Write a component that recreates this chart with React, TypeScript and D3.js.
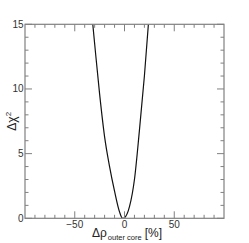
import * as d3 from 'd3';
import React, { useRef, useEffect } from 'react';

// Δρ outer core [%] vs Δχ²
const rhoValues = [-35, -30, -25, -20, -15, -10, -5, -2, 0, 5, 10, 15, 20, 25];
const chi2Values = [17.5, 13.5, 9.6, 6.3, 4.0, 2.1, 0.5, 0.0, 0.05, 0.9, 3.0, 6.8, 11.0, 16.0];
const xMajorTicks = [-50, 0, 50];
const xMinorTicks = [-90, -80, -70, -60, -40, -30, -20, -10, 10, 20, 30, 40, 60, 70, 80, 90];
const yMajorTicks = [0, 5, 10, 15];
const yMinorTicks = [1, 2, 3, 4, 6, 7, 8, 9, 11, 12, 13, 14];

function App() {
    const width = 249;
    const height = 243;
    const margin = { left: 25, right: 25, top: 24.3, bottom: 24.7 };
    const ref = useRef<SVGSVGElement>(null);

    useEffect(() => {
        const svg = d3.select(ref.current);
        svg.selectAll("*").remove();

        const x = d3.scaleLinear().domain([-100, 100]).range([margin.left, width - margin.right]);
        const y = d3.scaleLinear().domain([0, 15]).range([height - margin.bottom, margin.top]);
        const axisColor = "#808080";
        const font = "Liberation Sans, Arial, sans-serif";
        const x0 = margin.left, x1 = width - margin.right;
        const y0 = height - margin.bottom, y1 = margin.top;

        svg.append("clipPath").attr("id", "plotclip")
            .append("rect")
            .attr("x", x0).attr("y", y1)
            .attr("width", x1 - x0).attr("height", y0 - y1);

        const data = rhoValues.map((r, i) => ({ r, c: chi2Values[i] }));
        const line = d3.line<{ r: number, c: number }>()
            .x(d => x(d.r))
            .y(d => y(d.c))
            .curve(d3.curveMonotoneX);

        svg.append("path")
            .datum(data)
            .attr("d", line)
            .attr("fill", "none")
            .attr("stroke", "#111")
            .attr("stroke-width", 1.2)
            .attr("clip-path", "url(#plotclip)");

        const ticks = svg.append("g").attr("stroke", axisColor).attr("stroke-width", 1);
        const addX = (vals: number[], len: number) => {
            vals.forEach(v => {
                ticks.append("line").attr("x1", x(v)).attr("x2", x(v)).attr("y1", y0).attr("y2", y0 - len);
                ticks.append("line").attr("x1", x(v)).attr("x2", x(v)).attr("y1", y1).attr("y2", y1 + len);
            });
        };
        const addY = (vals: number[], len: number) => {
            vals.forEach(v => {
                ticks.append("line").attr("x1", x0).attr("x2", x0 + len).attr("y1", y(v)).attr("y2", y(v));
                ticks.append("line").attr("x1", x1).attr("x2", x1 - len).attr("y1", y(v)).attr("y2", y(v));
            });
        };
        addX(xMinorTicks, 3.5);
        addX(xMajorTicks, 7);
        addY(yMinorTicks, 3.5);
        addY(yMajorTicks, 7);

        svg.append("rect")
            .attr("x", x0).attr("y", y1)
            .attr("width", x1 - x0).attr("height", y0 - y1)
            .attr("fill", "none")
            .attr("stroke", axisColor)
            .attr("stroke-width", 1.2);

        svg.append("g").selectAll("text")
            .data(xMajorTicks)
            .enter()
            .append("text")
            .attr("x", d => x(d))
            .attr("y", y0 + 10)
            .attr("text-anchor", "middle")
            .attr("font-family", font)
            .attr("font-size", 10)
            .attr("fill", "#333")
            .text(d => d < 0 ? "\u2212" + Math.abs(d) : String(d));

        svg.append("g").selectAll("text")
            .data(yMajorTicks)
            .enter()
            .append("text")
            .attr("x", x0 - 1.5)
            .attr("y", d => y(d) + 3.5)
            .attr("text-anchor", "end")
            .attr("font-family", font)
            .attr("font-size", 10)
            .attr("fill", "#333")
            .text(d => String(d));

        const xt = svg.append("text")
            .attr("x", 92)
            .attr("y", 236.5)
            .attr("font-family", font)
            .attr("font-size", 12)
            .attr("fill", "#222");
        xt.append("tspan").text("\u0394\u03c1");
        xt.append("tspan").attr("font-size", 7.5).attr("dy", 3.5).attr("dx", 1).text("outer core");
        xt.append("tspan").attr("dy", -3.5).attr("dx", 3).text("[%]");

        const yt = svg.append("text")
            .attr("transform", `translate(16,${(y0 + y1) / 2}) rotate(-90)`)
            .attr("text-anchor", "middle")
            .attr("font-family", font)
            .attr("font-size", 12)
            .attr("fill", "#222");
        yt.append("tspan").text("\u0394\u03c7");
        yt.append("tspan").attr("font-size", 8).attr("dy", -5).text("2");
    }, []);

    return (
        <div style={{ position: 'absolute', left: 0, top: 0, width, height }}>
            <svg ref={ref} width={width} height={height} style={{ display: 'block', background: 'white' }}></svg>
        </div>
    );
}

export default App;
